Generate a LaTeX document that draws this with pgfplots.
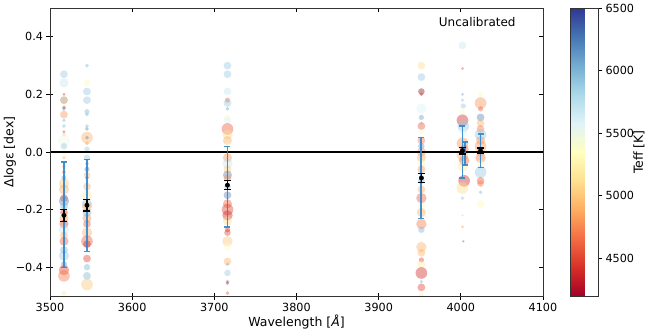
\documentclass[border=0pt]{standalone}
\usepackage{fontspec}
\setmainfont{DejaVu Sans}
\usepackage{pgfplots}
\usepackage{pgfplotstable}
\pgfplotsset{compat=1.18}

\pgfplotsset{
  colormap={RdYlBu}{rgb255=(165,0,38) rgb255=(215,48,39) rgb255=(244,109,67)
    rgb255=(253,174,97) rgb255=(254,224,144) rgb255=(255,255,191)
    rgb255=(224,243,248) rgb255=(171,217,233) rgb255=(116,173,209)
    rgb255=(69,117,180) rgb255=(49,54,149)},
  pts/.style={scatter, only marks, mark=*,
    point meta=\thisrow{T},
    visualization depends on={1.3*\thisrow{s}\as\ms},
    scatter/use mapped color={draw=mapped color, fill=mapped color,
      draw opacity=0, fill opacity=0.42},
    scatter/@pre marker code/.append style={/tikz/mark size=\ms}},
}
\definecolor{ebar}{RGB}{50,135,205}

% wavelength, offset, Teff, marker radius
\pgfplotstableread{
x y T s
3517 0.27 5900 3
3517 0.24 5700 3.5
3517 0.20 4400 1.2
3517 0.18 6000 3
3517 0.18 4900 3
3517 0.155 4400 1.5
3517 0.15 6200 1.5
3517 0.13 4800 3
3517 0.11 6000 1.5
3517 0.09 6000 1.5
3517 0.07 4400 1.2
3517 0.06 5000 1.5
3517 0.04 5500 4.5
3517 0.02 5900 2.5
3517 0.00 5300 2
3517 -0.02 4900 1.5
3517 -0.05 4800 1.5
3517 -0.07 4500 1.5
3517 -0.09 6100 2
3517 -0.11 5000 4
3517 -0.13 4900 4
3517 -0.16 4500 3
3517 -0.17 6200 4
3517 -0.19 6000 3
3517 -0.21 4500 3
3517 -0.23 4800 3.5
3517 -0.25 4500 3.5
3517 -0.27 5700 4
3517 -0.29 4900 3
3517 -0.31 4600 3.5
3517 -0.34 6000 3
3517 -0.36 5900 4
3517 -0.39 6100 2.5
3517 -0.41 4500 4
3517 -0.43 4700 4.5
3517 -0.49 5200 2
}\lineA

\pgfplotstableread{
x y T s
3545 0.30 6000 1.5
3545 0.24 5300 2.5
3545 0.21 5900 3
3545 0.18 5900 3
3545 0.14 6000 2
3545 0.13 6000 1.5
3545 0.09 6000 1.5
3545 0.08 6200 1.5
3545 0.05 4900 4.5
3545 0.05 6200 1.5
3545 0.03 4800 1.5
3545 0.01 5900 2
3545 -0.02 5900 2.5
3545 -0.04 4600 1.5
3545 -0.06 6200 2
3545 -0.08 4900 2.5
3545 -0.09 4400 1.5
3545 -0.12 4900 3
3545 -0.15 5200 4
3545 -0.18 5900 4
3545 -0.19 4900 4
3545 -0.21 6000 3.5
3545 -0.23 4800 3.5
3545 -0.25 4600 3
3545 -0.28 4900 4
3545 -0.31 4600 4.5
3545 -0.32 4400 3
3545 -0.37 4500 3
3545 -0.40 6000 2.5
3545 -0.43 6000 3
3545 -0.46 5000 4.5
}\lineB

\pgfplotstableread{
x y T s
3716 0.30 5900 3
3716 0.27 5900 3
3716 0.21 5700 3
3716 0.18 4600 2
3716 0.17 5900 3
3716 0.15 6100 1.5
3716 0.12 5400 2.5
3716 0.11 5600 3
3716 0.08 4600 4.5
3716 0.06 5100 4
3716 0.04 4900 3.5
3716 0.02 5400 3
3716 -0.02 4800 3.5
3716 -0.04 5700 4
3716 -0.06 5000 3
3716 -0.08 6200 3.5
3716 -0.09 4800 3
3716 -0.12 6000 2.5
3716 -0.15 6200 3
3716 -0.18 4600 3.5
3716 -0.20 4500 4.5
3716 -0.22 4400 4
3716 -0.24 5100 3.5
3716 -0.27 4400 2
3716 -0.28 4500 2.5
3716 -0.31 5000 4
3716 -0.33 5400 3
3716 -0.38 4900 3
3716 -0.39 6000 1.5
3716 -0.42 5900 2.5
3716 -0.45 6200 1.5
3716 -0.455 4400 1.5
3716 -0.49 4600 1.5
}\lineC

\pgfplotstableread{
x y T s
3952 0.30 5100 3
3952 0.26 5900 3
3952 0.21 6200 2.5
3952 0.21 4600 2.5
3952 0.20 4400 1.5
3952 0.15 5600 4
3952 0.12 6100 2
3952 0.10 5800 1.5
3952 0.09 4600 3
3952 0.07 5400 2
3952 0.04 4700 3
3952 0.02 6100 2.5
3952 0.00 4800 3.5
3952 -0.02 4900 3.5
3952 -0.04 5300 3
3952 -0.06 4800 3
3952 -0.10 6000 2.5
3952 -0.13 4900 3
3952 -0.16 4600 4
3952 -0.19 5300 3
3952 -0.21 4900 3.5
3952 -0.25 4700 4
3952 -0.27 6000 2.5
3952 -0.33 4900 4
3952 -0.35 4900 3
3952 -0.375 4500 2
3952 -0.39 5200 3
3952 -0.42 4400 4.5
3952 -0.45 6000 1.5
3952 -0.47 4500 3
3952 -0.50 5200 2
}\lineD

\pgfplotstableread{
x y T s
4002 0.37 5700 3
4002 0.29 4600 1.2
4002 0.24 5300 1
4002 0.20 6100 1.2
4002 0.18 5900 1.5
4003 0.16 5900 2
4002 0.14 5400 2
4002 0.11 4400 4.5
4003 0.09 5900 4.5
4003 0.07 5600 3
4002 0.03 4800 4.5
4004 0.01 4600 3.5
4002 -0.01 4900 4.5
4004 -0.03 4600 4
4002 -0.05 5200 4
4004 -0.10 4400 4.5
4002 -0.125 5100 4.5
4002 -0.16 5900 1.5
4002 -0.22 5800 1
4002 -0.26 4800 1.2
4003 -0.31 4500 1
}\lineE

\pgfplotstableread{
x y T s
4024 0.20 5300 2
4024 0.17 4800 4.5
4024 0.15 4600 2
4024 0.12 6200 3
4024 0.10 4900 3
4024 0.08 4700 3
4024 0.06 5900 4.5
4024 0.04 4800 3.5
4024 0.02 4800 4.5
4024 0.00 5000 3.5
4024 -0.02 4700 4
4024 -0.04 5300 3
4024 -0.07 5900 4.5
4024 -0.10 4600 3
4024 -0.11 4700 2.5
4024 -0.14 6000 1.5
4024 -0.18 5300 3
}\lineF

\begin{document}
\begin{tikzpicture}
\useasboundingbox (-50pt,-36pt) rectangle (600pt,296pt);
\begin{axis}[
  at={(0pt,0pt)}, anchor=south west,
  scale only axis, width=493pt, height=288pt,
  xmin=3500, xmax=4100, ymin=-0.5, ymax=0.5,
  xtick={3500,3600,3700,3800,3900,4000,4100},
  xticklabels={3500,3600,3700,3800,3900,4000,4100},
  ytick={-0.4,-0.2,0,0.2,0.4},
  yticklabels={−0.4,−0.2,0.0,0.2,0.4},
  tick pos=left, tick align=center, major tick length=7pt,
  tick style={black, line width=0.7pt},
  axis line style={line width=0.8pt, black!80},
  ticklabel style={font=\fontsize{11.2}{13}\selectfont},
  xlabel={Wavelength [\textit{Å}]},
  ylabel={Δlogε [dex]},
  label style={font=\fontsize{12.5}{15}\selectfont},
  x label style={at={(axis description cs:0.5,-0.09)}, anchor=center},
  y label style={at={(axis description cs:-0.0811,0.5)}, anchor=center},
  colormap name=RdYlBu,
  point meta min=4200, point meta max=6500,
  unbounded coords=jump,
  clip marker paths=true,
  colorbar,
  colorbar style={
    at={(parent axis.north east)}, anchor=north west, xshift=18.5pt,
    scale only axis, width=28pt, height=288pt,
    ytick={4500,5000,5500,6000,6500},
    yticklabels={4500,5000,5500,6000,6500},
    yticklabel pos=right, ytick pos=right,
    tick align=outside, major tick length=4pt,
    tick style={black, line width=0.7pt},
    axis line style={line width=0.8pt, black!80},
    ticklabel style={font=\fontsize{11.2}{13}\selectfont},
    ylabel={Teff [K]},
    ylabel style={font=\fontsize{12.5}{15}\selectfont,
      at={(axis description cs:2.46,0.5)}, anchor=center},
  },
]
\addplot[pts] table {\lineA};
\addplot[pts] table {\lineB};
\addplot[pts] table {\lineC};
\addplot[pts] table {\lineD};
\addplot[pts] table {\lineE};
\addplot[pts] table {\lineF};

\addplot[black, line width=1.2pt] coordinates {(3500,0) (4100,0)};

% spread of each line (bar ends)
\addplot[ebar, line width=1.8pt, draw opacity=0.9, mark=-, mark size=3pt,
  mark options={line width=1.3pt}]
  coordinates {
  (3517,-0.035) (3517,-0.40) (3517,nan)
  (3545,-0.025) (3545,-0.345) (3545,nan)
  (3716,0.02) (3716,-0.26) (3716,nan)
  (3952,0.05) (3952,-0.23) (3952,nan)
  (4002,0.09) (4002,-0.09) (4002,nan)
  (4005,0.035) (4005,-0.045) (4005,nan)
  (4024,0.063) (4024,-0.055)
  };

% error of the mean
\addplot[black, line width=1.2pt, mark=-, mark size=3.5pt]
  coordinates {
  (3517,-0.20) (3517,-0.24) (3517,nan)
  (3545,-0.165) (3545,-0.205) (3545,nan)
  (3716,-0.10) (3716,-0.13) (3716,nan)
  (3952,-0.075) (3952,-0.105) (3952,nan)
  (4002,0.017) (4002,-0.007) (4002,nan)
  (4024,0.014) (4024,-0.006)
  };

% mean
\addplot[only marks, mark=*, mark size=2.2pt, black]
  coordinates {
  (3517,-0.22) (3545,-0.185) (3716,-0.115)
  (3952,-0.09) (4002,0.005) (4024,0.004)
  };

\node[font=\fontsize{12}{14}\selectfont] at (axis cs:4020,0.452) {Uncalibrated};
\end{axis}

% inward ticks on top and right
\begin{axis}[
  at={(0pt,0pt)}, anchor=south west,
  scale only axis, width=493pt, height=288pt,
  xmin=3500, xmax=4100, ymin=-0.5, ymax=0.5,
  xtick={3500,3600,3700,3800,3900,4000,4100},
  ytick={-0.4,-0.2,0,0.2,0.4},
  xticklabels={}, yticklabels={},
  tick pos=right, tick align=inside, major tick length=4pt,
  tick style={black, line width=0.7pt},
  axis line style={line width=0.8pt, black!80},
]
\end{axis}
\end{tikzpicture}
\end{document}
